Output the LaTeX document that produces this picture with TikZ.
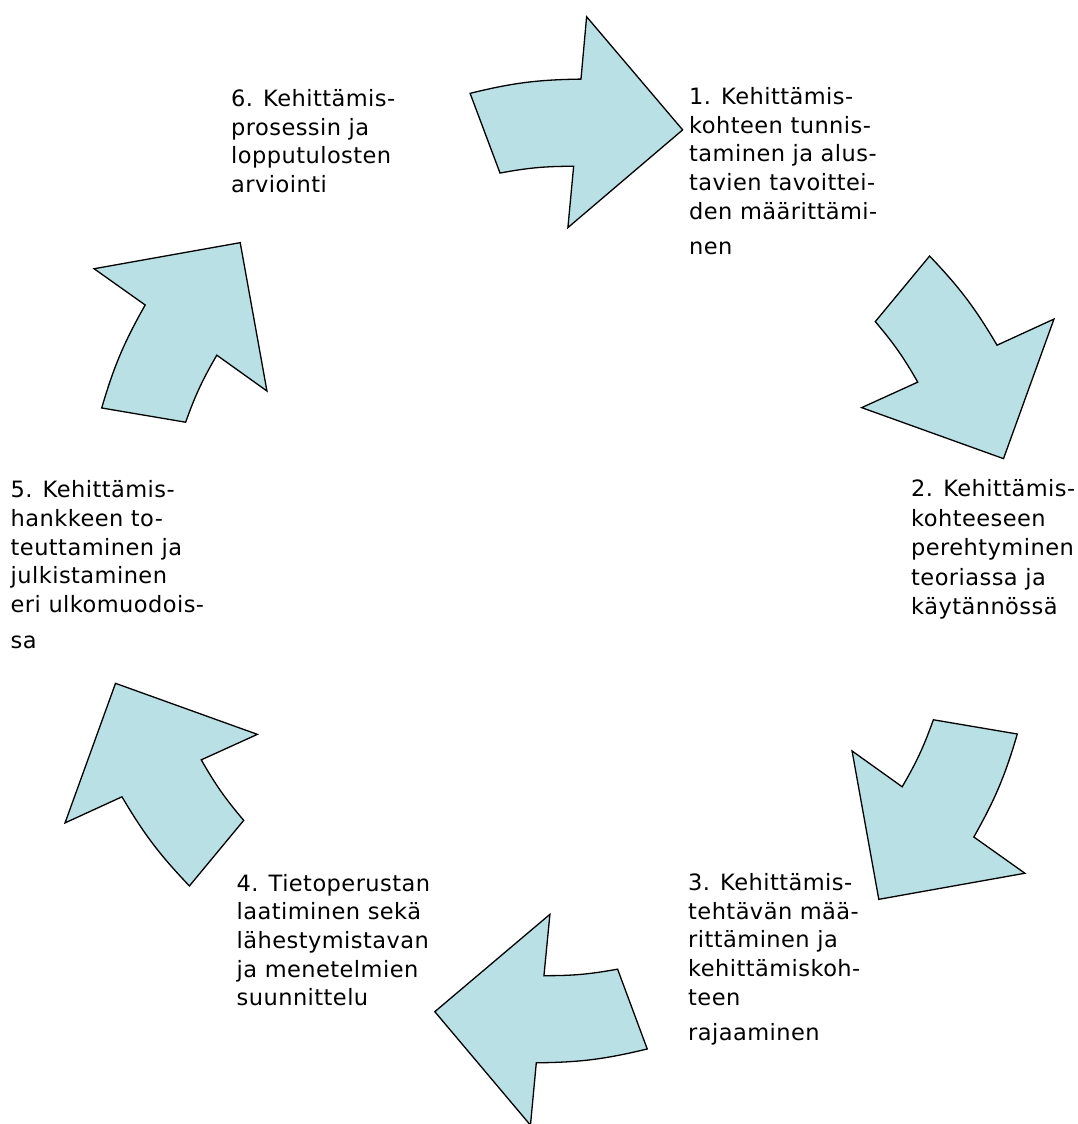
\documentclass[tikz,border=0pt]{standalone}
\usepackage{fontspec}
\setmainfont{DejaVu Sans}[LetterSpace=2]
\usepackage{tikz}

\definecolor{arrowblue}{RGB}{185,224,228}

\tikzset{
  cyclearrow/.style={draw=black, fill=arrowblue, line width=1.3pt},
  phasetext/.style={anchor=base west, align=left, inner sep=0pt,
    font=\fontsize{22.5}{28.7}\selectfont},
}

\begin{document}
\begin{tikzpicture}[x=1pt, y=1pt]

\useasboundingbox (0,0) rectangle (1078,1124);

\foreach \a in {74.4,14.2,-45.8,-105.8,-165.8,134.2}{
  \begin{scope}[shift={(559.5,553)}, rotate=\a]
    \draw [cyclearrow] (26.2:486) to[bend left=6.5] (13.1:492.4) -- (12.8:555) -- (0:458)
      -- (14.2:343.5) -- (13.6:405) to[bend right=5.25] (24.1:402.4) -- cycle;
  \end{scope}
}

% anchored at the baseline of the last line
\node [phasetext] (phase1) at (689,869) {1. Kehittämis-\\kohteen tunnis-\\taminen ja alus-\\tavien tavoittei-\\den määrittämi-\\[7pt]nen};
\node [phasetext, font=\fontsize{22.5}{29.5}\selectfont] (phase2) at (911,509) {2. Kehittämis-\\kohteeseen\\perehtyminen\\teoriassa ja\\käytännössä};
\node [phasetext] (phase3) at (688,83) {3. Kehittämis-\\tehtävän mää-\\rittäminen ja\\kehittämiskoh-\\teen\\[7pt]rajaaminen};
\node [phasetext] (phase4) at (236.5,118) {4. Tietoperustan\\laatiminen sekä\\lähestymistavan\\ja menetelmien\\suunnittelu};
\node [phasetext] (phase5) at (10.5,475.7) {5. Kehittämis-\\hankkeen to-\\teuttaminen ja\\julkistaminen\\eri ulkomuodois-\\[7pt]sa};
\node [phasetext] (phase6) at (231,931.3) {6. Kehittämis-\\prosessin ja\\lopputulosten\\arviointi};

\end{tikzpicture}
\end{document}
